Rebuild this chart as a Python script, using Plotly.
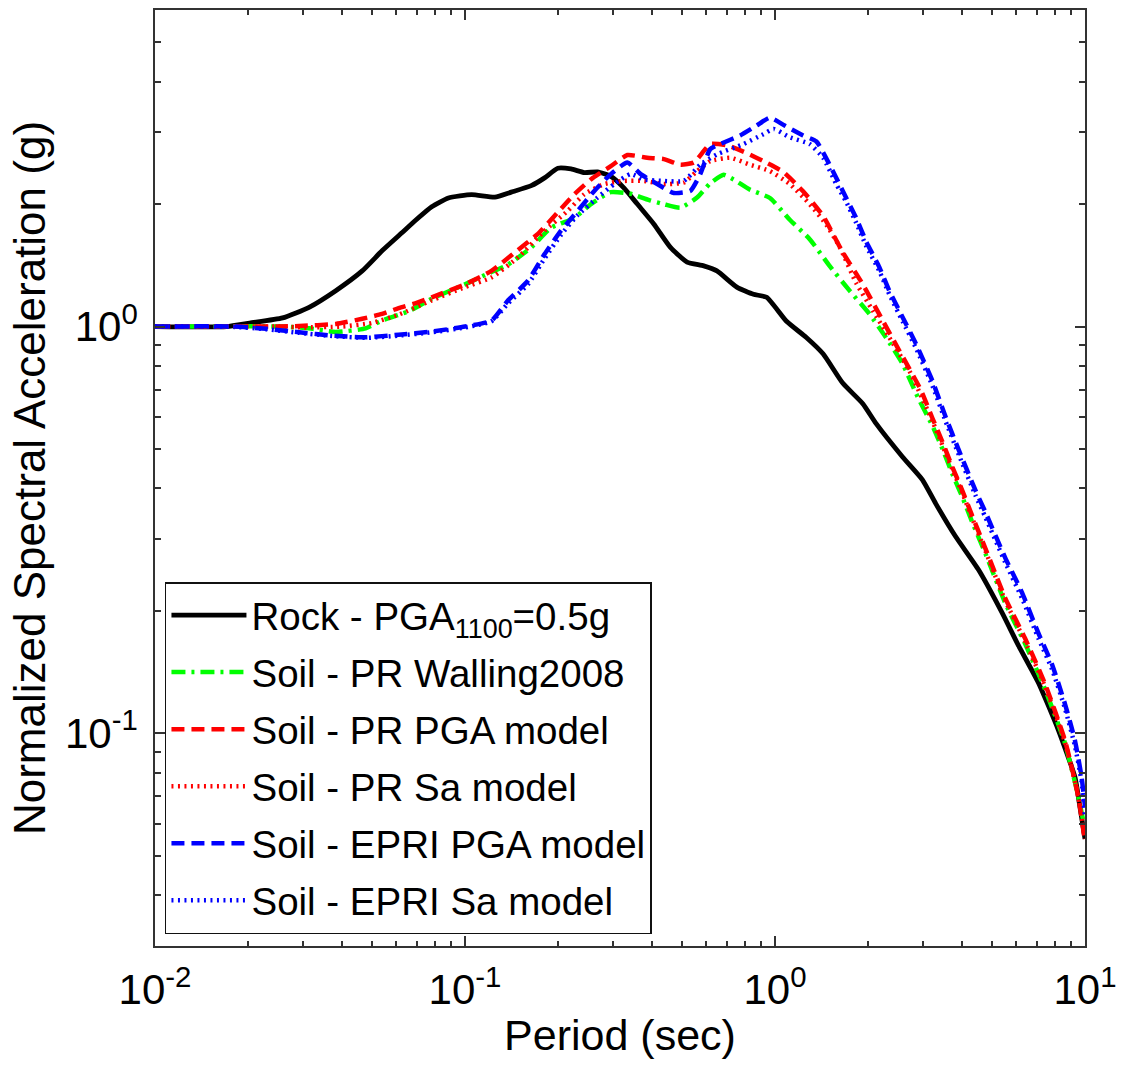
import plotly.graph_objects as go

# ---------------- data (period in sec, normalized Sa in g) ----------------
rock_T = [0.01, 0.017, 0.0202, 0.0258, 0.0314, 0.0383, 0.0466, 0.054, 0.0626, 0.069,
          0.0781, 0.0884, 0.105, 0.1248, 0.141, 0.1636, 0.1806, 0.1992, 0.2198, 0.2427,
          0.2677, 0.2954, 0.326, 0.3597, 0.407, 0.46, 0.5204, 0.589, 0.6495, 0.753,
          0.852, 0.94, 1.089, 1.262, 1.429, 1.656, 1.92, 2.12, 2.58, 2.99,
          3.30, 3.82, 4.54, 5.40, 6.11, 7.08, 8.20, 9.28, 9.6, 10.0]
rock_Sa = [1.0, 1.0, 1.02, 1.05, 1.115, 1.225, 1.37, 1.535, 1.70, 1.82,
           1.97, 2.07, 2.11, 2.08, 2.14, 2.22, 2.32, 2.45, 2.44, 2.39,
           2.40, 2.34, 2.19, 2.0, 1.785, 1.565, 1.44, 1.41, 1.37, 1.25,
           1.20, 1.18, 1.03, 0.94, 0.857, 0.725, 0.646, 0.577, 0.478, 0.42,
           0.367, 0.305, 0.252, 0.198, 0.164, 0.133, 0.102, 0.078, 0.067, 0.055]

walling_T = [0.01, 0.0257, 0.0314, 0.0383, 0.0478, 0.054, 0.0658, 0.0781, 0.1, 0.1188,
             0.1377, 0.1636, 0.1896, 0.2254, 0.2548, 0.2954, 0.3423, 0.397, 0.438, 0.4955,
             0.5605, 0.618, 0.683, 0.735, 0.831, 0.963, 1.116, 1.294, 1.5, 1.74,
             2.016, 2.28, 2.58, 2.89, 3.22, 3.47, 3.73, 4.02, 4.33, 4.77,
             5.53, 6.41, 7.44, 8.62, 9.51, 10.0]
walling_Sa = [1.0, 1.0, 0.99, 0.97, 0.99, 1.035, 1.09, 1.17, 1.27, 1.35,
              1.42, 1.565, 1.75, 1.85, 2.0, 2.14, 2.12, 2.04, 2.0, 1.96,
              2.075, 2.25, 2.36, 2.30, 2.17, 2.07, 1.83, 1.64, 1.41, 1.225,
              1.074, 0.94, 0.81, 0.67, 0.57, 0.50, 0.435, 0.381, 0.33, 0.277,
              0.209, 0.166, 0.128, 0.0945, 0.07, 0.058]

pr_pga_T = [0.01, 0.025, 0.0292, 0.0383, 0.0466, 0.054, 0.0611, 0.0691, 0.0781, 0.1,
            0.1217, 0.1446, 0.1719, 0.1992, 0.2254, 0.2548, 0.2954, 0.334, 0.387, 0.438,
            0.4955, 0.547, 0.589, 0.618, 0.699, 0.811, 0.917, 1.063, 1.232, 1.429,
            1.656, 1.92, 2.226, 2.516, 2.95, 3.22, 3.47, 3.73, 4.02, 4.33,
            4.77, 5.53, 6.41, 7.44, 8.62, 9.51, 10.0]
pr_pga_Sa = [1.0, 1.0, 1.003, 1.015, 1.045, 1.074, 1.11, 1.14, 1.18, 1.27,
             1.37, 1.52, 1.69, 1.91, 2.115, 2.30, 2.48, 2.64, 2.60, 2.58,
             2.50, 2.53, 2.70, 2.81, 2.79, 2.67, 2.55, 2.40, 2.15, 1.87,
             1.52, 1.27, 1.034, 0.873, 0.70, 0.595, 0.52, 0.452, 0.395, 0.342,
             0.285, 0.215, 0.171, 0.132, 0.096, 0.07, 0.054]

pr_sa_T = [0.01, 0.025, 0.03, 0.04, 0.05, 0.0611, 0.0781, 0.1, 0.1217, 0.1483,
           0.1806, 0.2145, 0.2427, 0.2813, 0.326, 0.378, 0.438, 0.508, 0.5605, 0.618,
           0.717, 0.831, 0.963, 1.116, 1.294, 1.464, 1.616, 1.827, 2.068, 2.337,
           2.709, 3.22, 3.47, 3.73, 4.02, 4.33, 4.77, 5.53, 6.41, 7.44,
           8.62, 9.51, 10.0]
pr_sa_Sa = [1.0, 1.0, 0.995, 1.0, 1.02, 1.07, 1.16, 1.25, 1.32, 1.48,
            1.72, 1.925, 2.115, 2.24, 2.28, 2.28, 2.24, 2.26, 2.41, 2.55,
            2.60, 2.50, 2.41, 2.24, 2.0, 1.78, 1.57, 1.28, 1.094, 0.94,
            0.78, 0.585, 0.51, 0.446, 0.39, 0.337, 0.281, 0.212, 0.168, 0.13,
            0.095, 0.07, 0.055]

epri_pga_T = [0.01, 0.018, 0.0228, 0.0292, 0.0373, 0.0478, 0.0611, 0.0781, 0.1, 0.1217,
              0.1377, 0.1596, 0.1806, 0.204, 0.231, 0.2613, 0.2954, 0.334, 0.3687, 0.417,
              0.4717, 0.5333, 0.574, 0.618, 0.666, 0.772, 0.873, 0.963, 1.074, 1.232,
              1.36, 1.5, 1.656, 1.827, 1.967, 2.17, 2.337, 2.58, 2.85, 3.22,
              3.55, 3.92, 4.43, 4.77, 5.53, 6.26, 7.08, 7.82, 8.62, 9.28,
              9.75, 10.0]
epri_pga_Sa = [1.0, 1.0, 0.987, 0.968, 0.95, 0.941, 0.955, 0.972, 1.0, 1.034,
               1.16, 1.296, 1.507, 1.72, 1.925, 2.155, 2.37, 2.53, 2.37, 2.24,
               2.13, 2.155, 2.37, 2.73, 2.81, 2.95, 3.12, 3.26, 3.12, 2.95,
               2.85, 2.5, 2.15, 1.85, 1.62, 1.40, 1.225, 1.054, 0.906, 0.735,
               0.60, 0.496, 0.396, 0.35, 0.27, 0.222, 0.176, 0.148, 0.118, 0.096,
               0.078, 0.066]

epri_sa_T = [0.01, 0.018, 0.0228, 0.0292, 0.0373, 0.0478, 0.0611, 0.0781, 0.1, 0.1217,
             0.1377, 0.1596, 0.1806, 0.204, 0.231, 0.2677, 0.303, 0.342, 0.378, 0.438,
             0.508, 0.574, 0.6495, 0.791, 0.917, 0.99, 1.116, 1.294, 1.43, 1.576,
             1.70, 1.827, 1.967, 2.17, 2.337, 2.58, 2.85, 3.22, 3.55, 3.92,
             4.43, 4.77, 5.53, 6.26, 7.08, 7.82, 8.62, 9.28, 9.75, 10.0]
epri_sa_Sa = [1.0, 0.998, 0.985, 0.965, 0.948, 0.938, 0.95, 0.968, 0.995, 1.03,
              1.14, 1.27, 1.47, 1.68, 1.88, 2.075, 2.24, 2.37, 2.30, 2.28,
              2.28, 2.5, 2.65, 2.81, 2.97, 3.06, 2.92, 2.81, 2.60, 2.24,
              2.02, 1.80, 1.58, 1.37, 1.20, 1.03, 0.885, 0.715, 0.585, 0.483,
              0.385, 0.34, 0.263, 0.215, 0.171, 0.144, 0.115, 0.093, 0.076, 0.062]

series_names = ["Rock - PGA<sub>1100</sub>=0.5g",
                "Soil - PR Walling2008",
                "Soil - PR PGA model",
                "Soil - PR Sa model",
                "Soil - EPRI PGA model",
                "Soil - EPRI Sa model"]

x_tickvals = [0.01, 0.1, 1, 10]
x_ticktext = ["10<sup>-2</sup>", "10<sup>-1</sup>", "10<sup>0</sup>", "10<sup>1</sup>"]
x_minor = [0.02, 0.03, 0.04, 0.05, 0.06, 0.07, 0.08, 0.09,
           0.2, 0.3, 0.4, 0.5, 0.6, 0.7, 0.8, 0.9,
           2, 3, 4, 5, 6, 7, 8, 9]
y_tickvals = [0.1, 1]
y_ticktext = ["10<sup>-1</sup>", "10<sup>0</sup>"]
y_minor = [0.03, 0.04, 0.05, 0.06, 0.07, 0.08, 0.09,
           0.2, 0.3, 0.4, 0.5, 0.6, 0.7, 0.8, 0.9,
           2, 3, 4, 5]

# ---------------- figure ----------------
FONT = "Liberation Sans, Arial, Helvetica, sans-serif"
AX = "#333333"

styles = [
    dict(color="#000000", width=4.8, dash="solid"),
    dict(color="#00FF00", width=4.5, dash="14px,6px,3px,6px"),
    dict(color="#FF0000", width=4.5, dash="13px,7px"),
    dict(color="#FF0000", width=4.5, dash="2px,4.5px"),
    dict(color="#0000FF", width=4.5, dash="13px,7px"),
    dict(color="#0000FF", width=4.5, dash="2px,4.5px"),
]
xs = [rock_T, walling_T, pr_pga_T, pr_sa_T, epri_pga_T, epri_sa_T]
ys = [rock_Sa, walling_Sa, pr_pga_Sa, pr_sa_Sa, epri_pga_Sa, epri_sa_Sa]

fig = go.Figure()
for i in range(6):
    fig.add_trace(go.Scatter(
        x=xs[i], y=ys[i], mode="lines", name=series_names[i],
        line=dict(shape="spline", smoothing=0.5, **styles[i]),
        legendgroup=f"g{i}",
    ))

fig.update_layout(
    width=1125, height=1067,
    margin=dict(l=155, r=35, t=8, b=121),
    paper_bgcolor="white", plot_bgcolor="white",
    font=dict(family=FONT, color="black"),
    showlegend=True,
    legend=dict(
        x=0.0107, y=0.0128, xanchor="left", yanchor="bottom",
        bgcolor="white", bordercolor="#111111", borderwidth=1.5,
        font=dict(family=FONT, size=38.5, color="black"),
        itemwidth=75, tracegroupgap=4,
    ),
)

fig.update_xaxes(
    type="log", range=[-2, 1],
    tickmode="array", tickvals=x_tickvals, ticktext=x_ticktext,
    ticks="inside", ticklen=10, tickwidth=1.5, tickcolor=AX,
    showline=True, linecolor=AX, linewidth=1.5, mirror="ticks",
    showgrid=False, zeroline=False,
    tickfont=dict(family=FONT, size=42, color="black"),
    ticklabelstandoff=6,
    title=dict(text="Period (sec)", font=dict(family=FONT, size=43, color="black"), standoff=8),
    minor=dict(tickmode="array", tickvals=x_minor, ticks="inside", ticklen=5,
               tickwidth=1.5, tickcolor=AX, showgrid=False),
)
fig.update_yaxes(
    type="log", range=[-1.5229, 0.7782],
    tickmode="array", tickvals=y_tickvals, ticktext=y_ticktext,
    ticks="inside", ticklen=10, tickwidth=1.5, tickcolor=AX,
    showline=True, linecolor=AX, linewidth=1.5, mirror="ticks",
    showgrid=False, zeroline=False,
    tickfont=dict(family=FONT, size=42, color="black"),
    ticklabelstandoff=7,
    title=dict(text="Normalized Spectral Acceleration (g)",
               font=dict(family=FONT, size=44, color="black"), standoff=6),
    minor=dict(tickmode="array", tickvals=y_minor, ticks="inside", ticklen=6,
               tickwidth=1.5, tickcolor=AX, showgrid=False),
)

fig.write_html("out.html")
